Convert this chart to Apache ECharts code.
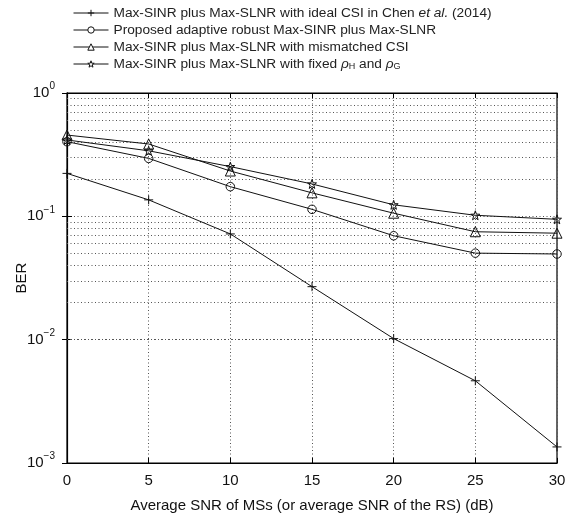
<!DOCTYPE html>
<html><head><meta charset="utf-8">
<script src="https://cdn.jsdelivr.net/npm/echarts@6/dist/echarts.min.js"></script>
<style>html,body{margin:0;padding:0;background:#fff}#c{width:571px;height:519px}</style>
</head><body><div id="c"></div>
<script>
const snr = [0, 5, 10, 15, 20, 25, 30];
const berIdeal = [0.223, 0.136, 0.072, 0.0269, 0.0102, 0.00464, 0.00135];
const berProposed = [0.403, 0.295, 0.174, 0.114, 0.0696, 0.0503, 0.0495];
const berMismatched = [0.456, 0.386, 0.233, 0.155, 0.106, 0.075, 0.073];
const berFixed = [0.416, 0.340, 0.253, 0.183, 0.124, 0.102, 0.0946];
const seriesNames = ['ideal', 'proposed', 'mismatched', 'fixed'];
const legendLabels = {
  ideal: 'Max-SINR plus Max-SLNR with ideal CSI in Chen {i|et al.} (2014)',
  proposed: 'Proposed adaptive robust Max-SINR plus Max-SLNR',
  mismatched: 'Max-SINR plus Max-SLNR with mismatched CSI',
  fixed: 'Max-SINR plus Max-SLNR with fixed {i|ρ}{sub|H} and {i|ρ}{sub|G}'
};
const yMin = 0.001, yMax = 1;
const minorVals = [];
[0.001, 0.01, 0.1].forEach(d => { for (let k = 2; k <= 9; k++) minorVals.push(+(d * k).toPrecision(3)); });

const FONT = '"Liberation Sans", Arial, sans-serif';
const plusPath = 'path://M0,-10L0,10M-10,0L10,0';
const starPath = 'path://M0,-10L2.35,-3.24L9.51,-3.09L3.8,1.24L5.88,8.09L0,4L-5.88,8.09L-3.8,1.24L-9.51,-3.09L-2.35,-3.24Z';

function mk(name, data, symbol, size) {
  return {
    name: name, type: 'line', data: snr.map((x, i) => [x, data[i]]),
    symbol: symbol, symbolSize: size, showSymbol: true,
    lineStyle: { color: '#111', width: 1 },
    itemStyle: { color: 'none', borderColor: '#111', borderWidth: 1 },
    emphasis: { disabled: true }, animation: false, z: 5
  };
}
const series = [
  mk('ideal', berIdeal, plusPath, 9),
  mk('proposed', berProposed, 'circle', 8.5),
  mk('mismatched', berMismatched, 'triangle', 10),
  mk('fixed', berFixed, starPath, 9),
  {
    name: 'minor', type: 'line', data: [], silent: true, animation: false,
    markLine: {
      silent: true, symbol: 'none', label: { show: false }, animation: false,
      lineStyle: { color: '#555', type: [1, 2.5], width: 1 },
      data: minorVals.map(v => ({ yAxis: v }))
    }
  }
];

const chart = echarts.init(document.getElementById('c'));
chart.setOption({
  backgroundColor: '#fff',
  textStyle: { fontFamily: FONT },
  grid: { left: 67, right: 14, top: 93, bottom: 56, show: true, borderColor: '#000', borderWidth: 1.2,
          containLabel: false, outerBoundsMode: 'none' },
  legend: {
    data: seriesNames, orient: 'vertical', left: 68, top: 0, itemWidth: 35, itemHeight: 8, itemGap: 1,
    selectedMode: false,
    lineStyle: { width: 1 },
    itemStyle: { color: '#fff', borderColor: '#111', borderWidth: 1 },
    formatter: n => legendLabels[n],
    textStyle: {
      fontSize: 13.7, color: '#222', fontFamily: FONT, lineHeight: 16,
      rich: {
        i: { fontStyle: 'italic', fontSize: 13.7, fontFamily: FONT, color: '#222' },
        sub: { fontSize: 9, fontFamily: FONT, color: '#222', padding: [6, 0, 0, 0] }
      }
    }
  },
  xAxis: [{
    type: 'value', min: 0, max: 30, interval: 5,
    name: 'Average SNR of MSs (or average SNR of the RS) (dB)', nameLocation: 'middle', nameGap: 35,
    nameMoveOverlap: false,
    nameTextStyle: { fontSize: 15, color: '#111', fontFamily: FONT },
    axisLine: { lineStyle: { color: '#000', width: 1.2 } },
    axisTick: { inside: true, length: 5, lineStyle: { color: '#000' } },
    axisLabel: { fontSize: 15, color: '#111', margin: 10, fontFamily: FONT },
    splitLine: { show: true, lineStyle: { color: '#555', type: [1, 2.5], width: 1 } }
  }, {
    type: 'value', min: 0, max: 30, interval: 5, position: 'top',
    axisLine: { show: true, lineStyle: { color: '#000' } },
    axisTick: { inside: true, length: 5, lineStyle: { color: '#000' } },
    axisLabel: { show: false }, splitLine: { show: false }
  }],
  yAxis: [{
    type: 'log', logBase: 10, min: yMin, max: yMax,
    name: 'BER', nameLocation: 'middle', nameGap: 38, nameRotate: 90, nameMoveOverlap: false,
    nameTextStyle: { fontSize: 15, color: '#111', fontFamily: FONT },
    axisLine: { show: true, lineStyle: { color: '#000', width: 1.2 } },
    axisTick: { show: true, inside: true, length: 5, lineStyle: { color: '#000' } },
    axisLabel: {
      color: '#111', margin: 12,
      formatter: v => '{b|10}{s|' + String(Math.round(Math.log10(v))).replace('-', '−') + '}',
      rich: {
        b: { fontSize: 15, fontFamily: FONT, color: '#111' },
        s: { fontSize: 10, fontFamily: FONT, color: '#111', padding: [0, 0, 13, 0] }
      }
    },
    splitLine: { show: true, lineStyle: { color: '#555', type: [1, 2.5], width: 1 } }
  }, {
    type: 'log', logBase: 10, min: yMin, max: yMax, position: 'right',
    axisLine: { show: true, lineStyle: { color: '#000' } },
    axisTick: { show: true, inside: true, length: 5, lineStyle: { color: '#000' } },
    axisLabel: { show: false }, splitLine: { show: false }
  }],
  series: series
});
</script></body></html>
